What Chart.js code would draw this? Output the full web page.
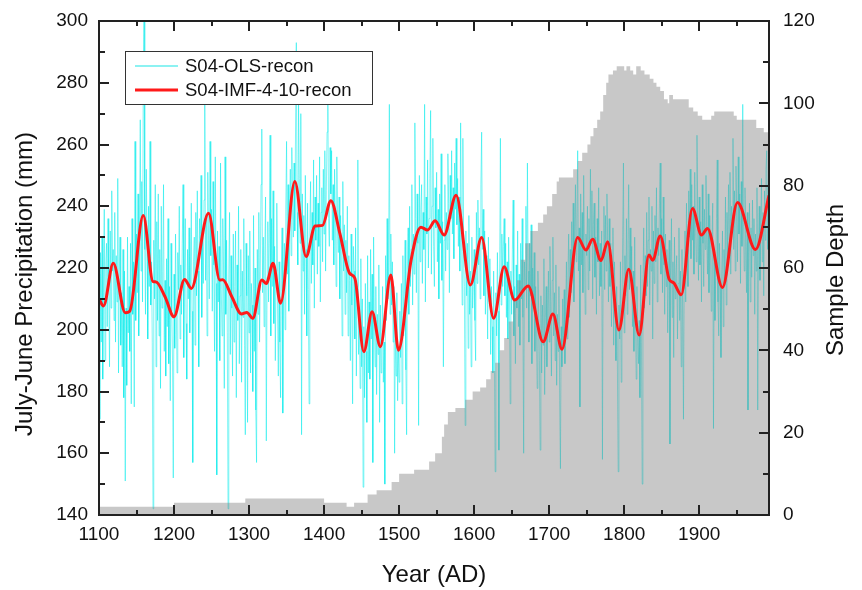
<!DOCTYPE html>
<html>
<head>
<meta charset="utf-8">
<script src="https://cdn.jsdelivr.net/npm/chart.js@4/dist/chart.umd.min.js"></script>
<style>
html,body{margin:0;padding:0;background:#fff;}
#wrap{width:862px;height:590px;}
</style>
</head>
<body>
<div id="wrap"><canvas id="c" width="862" height="590"></canvas></div>
<script>
// ---- DATA ----
const olsStartYear = 1100;
// annual S04-OLS-recon values (mm), 1100..1993, read/
const olsValues = [
218,171,225,196,230,184,212,239,190,221,
228,201,236,214,188,232,207,245,219,226,
203,238,196,224,209,249,186,217,230,195,
212,188,226,178,219,151,207,182,230,199,
214,193,228,176,236,205,222,175,261,203,
231,212,244,198,226,268,219,248,209,281,
300,226,205,252,231,197,240,214,261,208,
222,196,142,229,210,247,188,235,203,244,
198,226,181,240,207,219,247,193,216,185,
223,201,236,189,214,177,228,206,190,152,
218,194,231,208,186,225,213,240,197,221,
205,228,247,191,219,236,202,184,226,210,
233,199,215,241,206,157,222,230,195,238,
211,245,219,188,236,226,250,204,229,215,
242,273,216,236,198,251,229,210,261,224,
239,206,248,221,193,256,215,153,232,209,
227,190,254,213,198,236,220,181,256,205,
229,199,142,218,238,192,224,207,185,231,
196,214,232,178,221,203,240,189,211,226,
183,219,204,236,195,166,228,211,170,224,
199,232,186,215,208,180,237,193,220,174,
157,226,205,238,196,219,247,265,212,230,
201,224,243,164,217,235,209,228,263,198,
236,214,245,202,227,190,219,241,207,185,
222,196,178,216,233,173,212,228,200,239,
261,218,247,206,236,252,224,259,241,230,
254,232,266,293,238,221,273,249,228,270,
166,244,219,237,205,250,226,198,241,213,
176,232,248,215,238,221,255,207,243,229,
250,218,241,227,256,209,238,246,222,252,
231,258,219,245,264,276,236,227,259,244,
258,229,247,221,252,238,214,256,232,225,
243,210,237,226,198,248,219,234,205,229,
212,240,198,224,216,190,231,208,176,227,
219,197,233,185,214,255,192,206,181,223,
188,210,149,201,178,215,193,170,224,186,
209,184,226,197,218,157,230,203,188,214,
179,205,192,221,170,208,186,199,214,183,
196,150,224,203,236,210,219,273,205,231,
208,222,196,214,160,201,185,212,177,194,
183,206,191,215,176,224,198,210,229,187,
166,219,233,205,240,214,226,247,208,231,
218,267,236,212,244,228,169,250,222,239,
247,215,238,226,273,209,243,231,255,220,
236,249,271,218,240,262,227,214,246,233,
251,222,239,210,244,228,257,216,235,188,
229,247,219,238,226,257,241,212,250,236,
258,231,246,223,254,239,262,234,249,227,
243,219,267,236,208,262,225,214,169,232,
211,228,194,237,205,219,188,230,207,214,
226,203,190,238,215,242,221,233,210,247,
264,226,239,211,232,205,224,218,197,230,
209,223,192,214,201,186,219,196,154,212,
198,225,206,161,219,262,208,231,214,227,
236,211,228,204,222,197,230,215,176,219,
205,226,242,198,214,189,221,207,232,201,
218,195,228,210,236,204,160,222,213,240,
207,254,219,196,228,211,234,189,220,208,
225,193,214,202,181,219,206,190,161,211,
186,208,195,223,179,204,214,188,201,219,
196,227,209,185,216,230,198,212,190,221,
182,205,193,214,177,155,201,188,210,196,
213,189,206,222,197,218,231,204,226,212,
235,218,241,209,228,247,222,236,258,219,
233,175,244,221,238,212,250,227,205,231,
224,240,213,236,219,252,228,245,210,234,
241,217,230,205,236,222,246,211,228,214,
232,158,226,240,213,237,219,244,228,209,
236,214,228,201,219,233,195,222,207,190,
214,186,154,208,197,222,183,205,230,254,
199,224,211,236,205,228,247,213,233,218,
227,201,219,193,230,206,184,214,198,189,
203,178,221,196,150,215,233,207,224,211,
238,214,229,243,208,226,219,240,197,232,
215,237,222,246,209,233,224,241,254,218,
236,212,243,221,205,231,214,226,199,220,
229,163,218,236,204,222,191,230,210,217,
224,197,215,233,203,219,188,226,208,171,
218,232,209,241,226,214,245,230,252,223,
247,229,240,218,251,234,222,263,238,216,
243,221,235,209,247,228,214,239,226,250,
231,218,244,212,237,226,206,229,241,168,
224,203,217,236,255,209,198,228,214,191,
219,232,201,226,215,243,208,238,222,247,
229,251,218,240,234,262,226,245,219,253,
237,222,256,231,244,215,248,227,273,234,
219,246,230,212,238,174,225,241,209,233,
217,242,224,236,205,231,219,246,174,228,
240,216,233,249,222,238,211,245,229,252,
258,226,247,235
];

// S04-IMF-4-10-recon (smooth curve) read at turning points
const imfYears = [1100,1106,1119,1135,1141,1159,1172,1176,1188,1200,1214,1223,1246,1261,1265,1277,1290,1297,1305,1317,1323,1332,1342,1361,1376,1388,1398,1409,1421,1434,1441,1453,1464,1475,1489,1499,1516,1529,1538,1548,1560,1576,1595,1610,1626,1640,1654,1672,1692,1705,1717,1738,1749,1758,1769,1778,1793,1806,1820,1833,1838,1848,1860,1866,1876,1891,1903,1911,1931,1951,1975,1993];
const imfValues = [210,207.7,221.5,205.5,206,237,215.6,215.5,210.7,204.2,216.3,213.4,237.7,216.1,216.2,210.7,205.1,205.6,203.7,216.1,215,221.5,208.6,248,223.7,233.6,233.8,241.8,231.2,218.3,216.7,192.9,205.8,194.5,217.7,193.4,222.6,233.2,232.3,235.3,230.7,243.6,214.5,229.9,203.7,220.4,209.6,214.2,196.1,205.1,193.7,229.9,225.8,229.3,222.4,228.5,199.9,219.6,198.3,224.2,222.5,230.4,216.3,215.2,211.3,239.3,230.7,232.8,213.7,241.2,226,243.5];

// Sample depth (step function: value from given year onward)
const depthYears = [1100,1200,1295,1400,1430,1440,1458,1470,1490,1500,1520,1540,1548,1557,1560,1565,1575,1588,1598,1608,1616,1622,1628,1634,1640,1646,1652,1657,1662,1668,1675,1685,1692,1697,1704,1710,1713,1732,1738,1744,1751,1755,1759,1764,1768,1772,1776,1779,1785,1790,1800,1803,1808,1812,1816,1822,1827,1834,1839,1843,1848,1853,1858,1860,1865,1880,1886,1892,1898,1904,1916,1920,1946,1950,1976,1986,1993];
const depthValues = [2,3,4,3,2,3,5,6,8,10,11,13,15,19,22,25,26,28,30,31,33,35,37,40,43,47,52,57,62,66,69,71,73,75,78,81,82,84,86,88,90,92,94,96,98,102,105,107,108,109,108,109,108,107,109,108,107,106,105,104,103,101,100,102,101,101,99,98,97,96,97,98,97,96,94,93,93];

// Tick labels
const xTickLabels = [1100,1200,1300,1400,1500,1600,1700,1800,1900];
const yTickLabels = [140,160,180,200,220,240,260,280,300];
const y2TickLabels = [0,20,40,60,80,100,120];
// tick mark positions (major + minor)
const xTickMarks = [1100,1150,1200,1250,1300,1350,1400,1450,1500,1550,1600,1650,1700,1750,1800,1850,1900,1950];
const yTickMarks = [140,150,160,170,180,190,200,210,220,230,240,250,260,270,280,290,300];
const y2TickMarks = [0,10,20,30,40,50,60,70,80,90,100,110,120];

const seriesNames = ['S04-OLS-recon','S04-IMF-4-10-recon','Sample Depth'];
const axisTitles = {x:'Year (AD)', y:'July-June Precipitation (mm)', y2:'Sample Depth'};

// ---- BUILD ----
const FONT = '"Liberation Sans", Arial, Helvetica, sans-serif';
const olsData = olsValues.map((v,i)=>({x: olsStartYear + i, y: v}));
const imfData = imfYears.map((yr,i)=>({x: yr, y: imfValues[i]}));
const depthData = depthYears.map((yr,i)=>({x: yr, y: depthValues[i]}));

const AREA = {left: 99, right: 769, top: 21, bottom: 515};

const framePlugin = {
  id: 'frame',
  afterDraw(chart){
    const ctx = chart.ctx, a = chart.chartArea;
    const sx = chart.scales.x, sy = chart.scales.y, sy2 = chart.scales.y2;
    ctx.save();
    ctx.strokeStyle = '#222';
    ctx.lineWidth = 2;
    ctx.beginPath();
    xTickMarks.forEach(v=>{
      const px = Math.round(sx.getPixelForValue(v));
      const L = (v % 100 === 0) ? 10 : 5;
      ctx.moveTo(px, a.bottom); ctx.lineTo(px, a.bottom - L);
      ctx.moveTo(px, a.top); ctx.lineTo(px, a.top + L);
    });
    yTickMarks.forEach(v=>{
      const py = Math.round(sy.getPixelForValue(v));
      const L = (v % 20 === 0) ? 10 : 6;
      ctx.moveTo(a.left, py); ctx.lineTo(a.left + L, py);
    });
    y2TickMarks.forEach(v=>{
      const py = Math.round(sy2.getPixelForValue(v));
      const L = (v % 20 === 0) ? 10 : 6;
      ctx.moveTo(a.right, py); ctx.lineTo(a.right - L, py);
    });
    ctx.stroke();
    ctx.strokeRect(a.left, a.top, a.right - a.left, a.bottom - a.top);

    // legend (white box inside the plot)
    const ds = chart.data.datasets;
    ctx.fillStyle = '#fff';
    ctx.fillRect(125, 51, 248, 54);
    ctx.lineWidth = 1;
    ctx.strokeStyle = '#333';
    ctx.strokeRect(125.5, 51.5, 247, 53);
    ctx.font = '18.5px ' + FONT;
    ctx.textBaseline = 'middle';
    ctx.textAlign = 'left';
    const rows = [{d: ds[0], y: 66, w: 2, c: 'rgba(140,242,242,1)'}, {d: ds[1], y: 90, w: 3, c: ds[1].borderColor}];
    rows.forEach(r=>{
      ctx.beginPath();
      ctx.strokeStyle = r.c; ctx.lineWidth = r.w;
      ctx.moveTo(135, r.y); ctx.lineTo(178, r.y); ctx.stroke();
      ctx.fillStyle = '#111';
      ctx.fillText(r.d.label, 185, r.y + 1);
    });

    // axis titles
    ctx.fillStyle = '#111';
    ctx.font = '24px ' + FONT;
    ctx.textAlign = 'center';
    ctx.textBaseline = 'alphabetic';
    ctx.fillText(axisTitles.x, (a.left + a.right)/2, 582);
    ctx.save();
    ctx.translate(32, 284); ctx.rotate(-Math.PI/2);
    ctx.fillText(axisTitles.y, 0, 0);
    ctx.restore();
    ctx.save();
    ctx.translate(843, 280); ctx.rotate(-Math.PI/2);
    ctx.fillText(axisTitles.y2, 0, 0);
    ctx.restore();
    ctx.restore();
  }
};

// pin the plot area to the reference position
const areaPlugin = {
  id: 'area',
  afterLayout(chart){
    const a = chart.chartArea;
    a.left = AREA.left; a.right = AREA.right; a.top = AREA.top; a.bottom = AREA.bottom;
    a.width = a.right - a.left; a.height = a.bottom - a.top;
    const sx = chart.scales.x, sy = chart.scales.y, sy2 = chart.scales.y2;
    sx.left = AREA.left; sx.right = AREA.right; sx.width = AREA.right - AREA.left;
    sx.top = AREA.bottom; sx.bottom = 590; sx.height = 590 - AREA.bottom;
    [sy, sy2].forEach(s => { s.top = AREA.top; s.bottom = AREA.bottom; s.height = AREA.bottom - AREA.top; });
    sy.left = 0; sy.right = AREA.left; sy.width = AREA.left;
    sy2.left = AREA.right; sy2.right = 862; sy2.width = 862 - AREA.right;
    [sx, sy, sy2].forEach(s => { s.configure(); });
  }
};

new Chart(document.getElementById('c'), {
  type: 'line',
  data: {
    datasets: [
      {label: seriesNames[0], data: olsData, yAxisID: 'y', borderColor: 'rgba(0,235,235,0.5)', borderWidth: 1, pointRadius: 0, tension: 0, order: 2, fill: false},
      {label: seriesNames[1], data: imfData, yAxisID: 'y', borderColor: '#ff1a1a', borderWidth: 3, pointRadius: 0, cubicInterpolationMode: 'monotone', order: 0, fill: false},
      {label: seriesNames[2], data: depthData, yAxisID: 'y2', borderColor: 'rgba(0,0,0,0)', borderWidth: 0, backgroundColor: 'rgba(128,128,128,0.43)', pointRadius: 0, stepped: true, fill: 'origin', order: 1}
    ]
  },
  options: {
    responsive: false,
    animation: false,
    devicePixelRatio: 1,
    layout: {padding: {top: 21, left: 0, right: 0, bottom: 0}},
    plugins: {legend: {display: false}, tooltip: {enabled: false}},
    scales: {
      x: {
        type: 'linear', position: 'bottom', min: 1100, max: 1993,
        grid: {display: false, drawTicks: false}, border: {display: false},
        afterBuildTicks: s => { s.ticks = xTickLabels.map(v => ({value: v})); },
        afterFit: s => { s.height = 75; },
        ticks: {padding: 8, color: '#111', font: {family: FONT, size: 19}, maxRotation: 0, autoSkip: false, callback: v => String(v)}
      },
      y: {
        type: 'linear', position: 'left', min: 140, max: 300,
        grid: {display: false, drawTicks: false}, border: {display: false},
        afterBuildTicks: s => { s.ticks = yTickLabels.map(v => ({value: v})); },
        afterFit: s => { s.width = 99; },
        ticks: {padding: 11, color: '#111', font: {family: FONT, size: 19}, autoSkip: false, callback: v => String(v)}
      },
      y2: {
        type: 'linear', position: 'right', min: 0, max: 120,
        grid: {display: false, drawTicks: false}, border: {display: false},
        afterBuildTicks: s => { s.ticks = y2TickLabels.map(v => ({value: v})); },
        afterFit: s => { s.width = 93; },
        ticks: {padding: 14, color: '#111', font: {family: FONT, size: 19}, autoSkip: false, callback: v => String(v)}
      }
    }
  },
  plugins: [areaPlugin, framePlugin]
});
</script>
</body>
</html>
